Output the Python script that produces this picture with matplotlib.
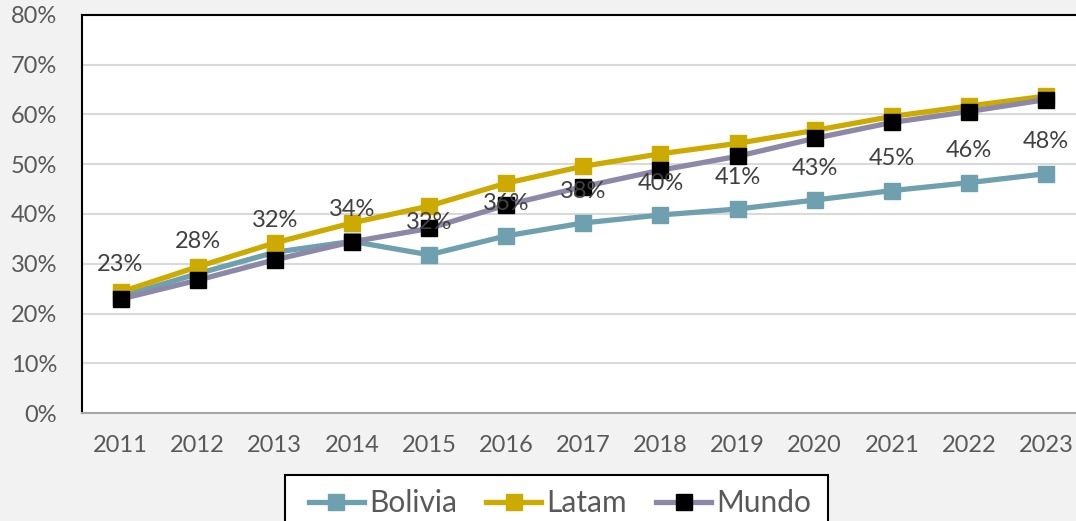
import matplotlib
matplotlib.use("Agg")
import matplotlib.pyplot as plt
from matplotlib.ticker import FuncFormatter
from matplotlib.patches import Rectangle

years = [2011, 2012, 2013, 2014, 2015, 2016, 2017, 2018, 2019, 2020, 2021, 2022, 2023]
bolivia = [23.4, 28.0, 32.3, 34.5, 31.8, 35.6, 38.2, 39.8, 41.0, 42.8, 44.7, 46.3, 48.1]
latam = [24.3, 29.4, 34.2, 38.2, 41.6, 46.2, 49.6, 52.1, 54.2, 56.8, 59.6, 61.7, 63.7]
mundo = [22.9, 26.7, 30.8, 34.4, 37.1, 41.8, 45.5, 48.8, 51.6, 55.2, 58.4, 60.6, 63.0]
yticks = [0, 10, 20, 30, 40, 50, 60, 70, 80]

plt.rcParams['font.family'] = ['Lato', 'DejaVu Sans']
text_col = '#595959'

fig = plt.figure(figsize=(10.76, 5.21), dpi=100)
fig.patch.set_facecolor('#F2F2F2')
W, H = 1076, 521
ax = fig.add_axes([82 / W, 1 - 413 / H, (1084.6 - 82) / W, (413 - 15) / H])
ax.set_facecolor('white')

x = list(range(len(years)))
lw = 3.8
ms = 11
ax.plot(x, bolivia, color='#6FA0AF', lw=lw, marker='s', ms=ms, mfc='#6FA0AF', mec='#6FA0AF',
        label='Bolivia', zorder=3, solid_joinstyle='round')
ax.plot(x, latam, color='#CCAA00', lw=lw, marker='s', ms=ms, mfc='#CCAA00', mec='#CCAA00',
        label='Latam', zorder=4, solid_joinstyle='round')
ax.plot(x, mundo, color='#8E88A8', lw=lw, marker='s', ms=ms, mfc='black', mec='black',
        label='Mundo', zorder=5, solid_joinstyle='round')

for xi, v in zip(x, bolivia):
    ax.annotate(f"{v:.0f}%", (xi, v), xytext=(0, 23), textcoords='offset points',
                ha='center', va='center', fontsize=17, color='#404040', zorder=6)

ax.set_xlim(-0.5, len(years) - 0.5)
ax.set_ylim(0, 80)
ax.set_yticks(yticks)
ax.yaxis.set_major_formatter(FuncFormatter(lambda v, p: f"{v:.0f}%"))
ax.set_xticks(x)
ax.set_xticklabels([str(y) for y in years])
ax.tick_params(axis='both', length=0, labelsize=17, labelcolor=text_col)
ax.tick_params(axis='y', pad=18)
ax.tick_params(axis='x', pad=16)
ax.grid(axis='y', color='#D9D9D9', lw=1.5, zorder=0)
ax.set_axisbelow(True)

ax.spines['left'].set_color('black')
ax.spines['left'].set_linewidth(1.5)
ax.spines['top'].set_color('black')
ax.spines['top'].set_linewidth(1.5)
ax.spines['bottom'].set_color('#A6A6A6')
ax.spines['bottom'].set_linewidth(1.5)
ax.spines['right'].set_visible(False)

# legend frame
fig.patches.append(Rectangle((285 / W, -0.05), (828 - 285) / W, 0.05 + (521 - 475) / H,
                             transform=fig.transFigure, facecolor='white', edgecolor='black',
                             lw=1.5, zorder=1))
leg = fig.legend(loc='center', bbox_to_anchor=(560 / W, 1 - 503 / H), ncol=3,
                 frameon=False, fontsize=21.5, handlelength=1.85, handletextpad=0.17,
                 columnspacing=0.97, borderpad=0, borderaxespad=0, labelcolor=text_col)
leg.set_zorder(2)

fig.savefig('out.png', dpi=100, facecolor=fig.get_facecolor())
